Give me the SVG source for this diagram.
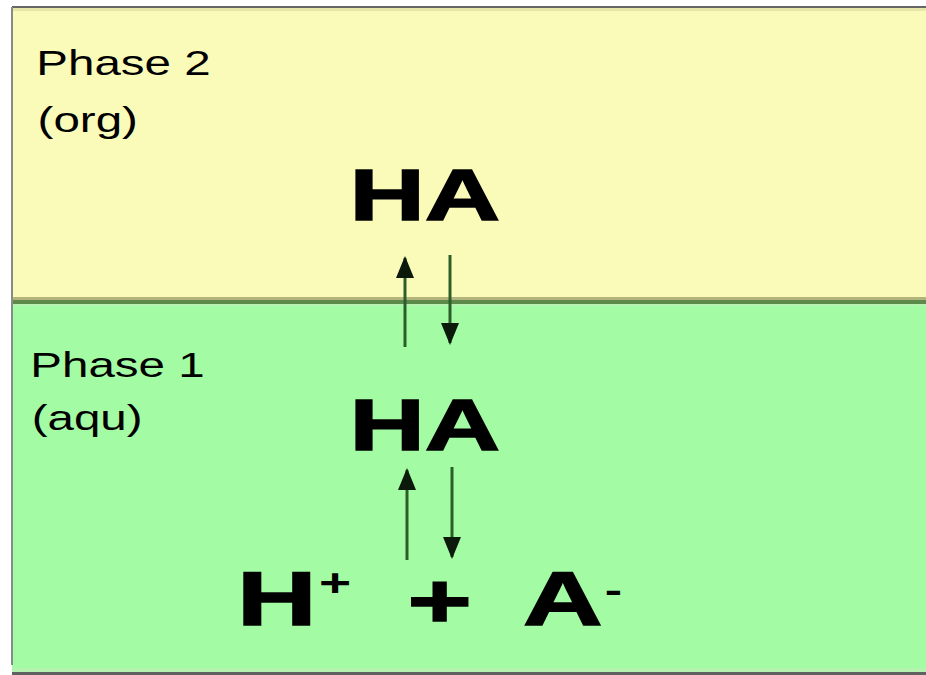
<svg xmlns="http://www.w3.org/2000/svg" width="926" height="675" viewBox="0 0 926 675">
<defs>
<style>
.lbl{font-family:"Liberation Sans",Arial,sans-serif;font-size:36px;fill:#000}
.big{font-family:"Liberation Sans",Arial,sans-serif;font-weight:bold;fill:#000;stroke:#000;stroke-width:1.5}
.sup{font-family:"Liberation Sans",Arial,sans-serif;font-weight:bold;fill:#000}
.arr{stroke:#2c5e2a;stroke-width:3;fill:none;marker-end:url(#head)}
</style>
<marker id="head" markerUnits="userSpaceOnUse" markerWidth="22" markerHeight="22" viewBox="0 0 22 22" refX="20" refY="11" orient="auto">
<path d="M0,2 L22,11 L0,20 Z" fill="#0b1a0b"/>
</marker>
</defs>
<rect x="0" y="0" width="926" height="675" fill="#ffffff"/>
<g id="phase2">
<rect x="12" y="7" width="914" height="293" fill="#fbfbb9"/>
<rect x="12" y="8" width="914" height="3" fill="#e6e6aa"/>
<g transform="scale(1.32,1)">
<text class="lbl" x="27.5" y="75">Phase 2</text>
<text class="lbl" x="28.5" y="132">(org)</text>
</g>
</g>
<g id="phase1">
<rect x="12" y="300" width="914" height="372" fill="#a3fba3"/>
<rect x="12" y="668" width="914" height="4" fill="#b4f4b0"/>
<g transform="scale(1.32,1)">
<text class="lbl" x="23" y="377">Phase 1</text>
<text class="lbl" x="24" y="430">(aqu)</text>
</g>
</g>
<g id="interface">
<rect x="12" y="297" width="914" height="3" fill="#b2b47c"/>
<rect x="12" y="300" width="914" height="4" fill="#5b8a4b"/>
<rect x="12" y="304" width="914" height="2" fill="#b8f2b2"/>
</g>
<g id="frame">
<rect x="12" y="6" width="914" height="2" fill="#666666"/>
<rect x="11" y="7" width="2" height="658" fill="#8a8a8a"/>
<rect x="12" y="672" width="914" height="3" fill="#606060"/>
</g>
<g id="ha-org" transform="scale(1.45,1)">
<text class="big" x="241" y="220" font-size="72">HA</text>
</g>
<g id="ha-aq" transform="scale(1.45,1)">
<text class="big" x="241" y="450" font-size="72">HA</text>
</g>
<g id="ions" transform="scale(1.45,1)">
<text class="big" y="625" font-size="76"><tspan x="163.4">H</tspan><tspan class="sup" x="220" y="596" font-size="38" stroke-width="0">+</tspan><tspan x="281" y="627">+</tspan><tspan x="360.7" y="625">A</tspan><tspan class="sup" x="417" y="602" font-size="36" stroke-width="0">-</tspan></text>
</g>
<g id="connectors">
<line class="arr" x1="405" y1="347" x2="405" y2="258"/>
<line class="arr" x1="450" y1="255" x2="450" y2="343"/>
<line class="arr" x1="407" y1="560" x2="407" y2="470"/>
<line class="arr" x1="452" y1="467" x2="452" y2="557"/>
</g>
</svg>
